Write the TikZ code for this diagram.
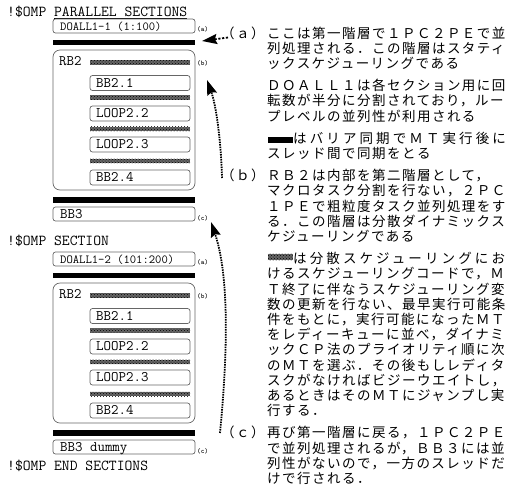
\documentclass[tikz,border=0pt]{standalone}
\usepackage{fontspec}
\usetikzlibrary{arrows.meta,patterns}
\newfontfamily\jpfont[LetterSpace=11]{Noto Sans CJK JP}
\newfontfamily\jpwide[LetterSpace=23]{Noto Sans CJK JP}
\begin{document}
\begin{tikzpicture}[x=1pt,y=-1pt,
  hdr/.style={font=\ttfamily\fontsize{15.2}{16}\selectfont, anchor=base west, inner sep=0pt},
  code/.style={font=\ttfamily\fontsize{14.5}{16}\selectfont, anchor=base west, inner sep=0pt},
  smallcode/.style={font=\ttfamily\fontsize{12.3}{14}\selectfont, anchor=base west, inner sep=0pt},
  tag/.style={font=\ttfamily\bfseries\fontsize{7}{8}\selectfont, anchor=base west, inner sep=0pt},
  box/.style={draw=black!60, line width=0.7pt, rounded corners=2.5pt, inner sep=0pt, minimum height=14pt},
  outerbox/.style={draw=black!60, line width=0.7pt, rounded corners=7pt, inner sep=0pt},
  barrier/.style={fill=black, inner sep=0pt, minimum height=5.5pt},
  sched/.style={fill=black!60, postaction={pattern=crosshatch dots, pattern color=black}, inner sep=0pt, minimum height=4.5pt, minimum width=100pt},
  jp/.style={font=\jpfont\fontsize{13.5}{15}\selectfont, anchor=base west, inner sep=0pt},
  jpw/.style={font=\jpwide\fontsize{13.5}{15}\selectfont, anchor=base west, inner sep=0pt},
  link/.style={line width=1.8pt, dash pattern=on 1.5pt off 1pt, -{Stealth[length=15pt,width=10pt,inset=2pt]}},
]
\useasboundingbox (0,0) rectangle (510,488);

% headers
\node[hdr] (h1) at (7,16.5) {!\$OMP \underline{PARALLEL SECTIONS}};
\node[hdr] (h2) at (7,245.5) {!\$OMP SECTION};
\node[hdr] (h3) at (7,470) {!\$OMP END SECTIONS};

% two sections
\foreach \i/\o/\dt/\bt in {1/0/{DOALL1-1 (1:100)}/{BB3}, 2/233/{DOALL1-2 (101:200)}/{BB3 dummy}} {
  \node[box, minimum width=142pt] (doall\i) at (124,26+\o) {};
  \node[smallcode] (doallt\i) at (60,30.3+\o) {\dt};
  \node[tag] (ta\i) at (197,31+\o) {(a)};
  \node[barrier, minimum width=142pt] (bar\i) at (124,42.5+\o) {};
  \node[outerbox, minimum width=142pt, minimum height=140pt] (rb\i) at (124,120+\o) {};
  \node[code] (rbt\i) at (59,65.5+\o) {RB2};
  \node[tag] (tb\i) at (197,65+\o) {(b)};
  \foreach \j/\yb/\yh/\nm in {1/83/62.5/BB2.1, 2/113.5/97.5/LOOP2.2, 3/144.5/129/LOOP2.3, 4/177.5/161/BB2.4} {
    \node[sched] (s\i\j) at (140,\yh+\o) {};
    \node[box, minimum width=100pt, minimum height=15pt] (ib\i\j) at (140,\yb+\o) {};
    \node[code] (ibt\i\j) at (96,\yb+4.4+\o) {\nm};
  }
  \node[barrier, minimum width=142pt] (barb\i) at (124,200+\o) {};
  \node[box, minimum width=142pt] (bb\i) at (124,214+\o) {};
  \node[code] (bbt\i) at (60,218.4+\o) {\bt};
  \node[tag] (tc\i) at (197,220+\o) {(c)};
}

% right-hand text
\node[jp] (la) at (221,38) {（ａ）};
\node[jp] (lb) at (221,180.6) {（ｂ）};
\node[jp] (lc) at (221,437.8) {（ｃ）};

\foreach \k/\y/\t in {
 1/33/ここは第一階層で１ＰＣ２ＰＥで並,
 2/48.2/列処理される．この階層はスタティ,
 3/63.4/ックスケジューリングである,
 4/85.6/ＤＯＡＬＬ１は各セクション用に回,
 5/100.8/転数が半分に分割されており，ルー,
 6/116/プレベルの並列性が利用される,
 8/153.4/スレッド間で同期をとる,
 9/175.6/ＲＢ２は内部を第二階層として，,
 10/190.8/マクロタスク分割を行ない，２ＰＣ,
 11/206/１ＰＥで粗粒度タスク並列処理をす,
 12/221.2/る．この階層は分散ダイナミックス,
 13/236.4/ケジューリングである,
 15/273.8/けるスケジューリングコードで，Ｍ,
 16/289/Ｔ終了に伴なうスケジューリング変,
 17/304.2/数の更新を行ない、最早実行可能条,
 18/319.4/件をもとに，実行可能になったＭＴ,
 19/334.6/をレディーキューに並べ，ダイナミ,
 20/349.8/ックＣＰ法のプライオリティ順に次,
 21/365/のＭＴを選ぶ．その後もしレディタ,
 22/380.2/スクがなければビジーウエイトし，,
 23/395.4/あるときはそのＭＴにジャンプし実,
 24/410.6/行する．,
 25/432.8/再び第一階層に戻る，１ＰＣ２ＰＥ,
 26/448/で並列処理されるが，ＢＢ３には並,
 27/463.2/列性がないので，一方のスレッドだ,
 28/478.4/けで行される．} {
  \node[jp] (r\k) at (267,\y+5) {\t};
}
\node[barrier, minimum width=25pt, minimum height=6pt] (kb) at (280,140) {};
\node[jpw] (r7) at (293,143.2) {はバリア同期でＭＴ実行後に};
\node[sched, minimum width=25pt, minimum height=6.5pt] (ks) at (280,257) {};
\node[jpw] (r14) at (293,263.6) {は分散スケジューリングにお};

% connectors
\coordinate (aS) at (228,37.5);
\coordinate (aT) at (202,41);
\coordinate (bS) at (222,178);
\coordinate (bT) at (207,80);
\coordinate (cS) at (220,433);
\coordinate (cT) at (211,222);
\draw[link, dash pattern=on 2.2pt off 1.6pt] (aS) -- (aT);
\draw[link] (bS) .. controls (221,140) and (216,105) .. (bT);
\draw[link] (cS) .. controls (228,350) and (229,275) .. (cT);
\end{tikzpicture}
\end{document}
